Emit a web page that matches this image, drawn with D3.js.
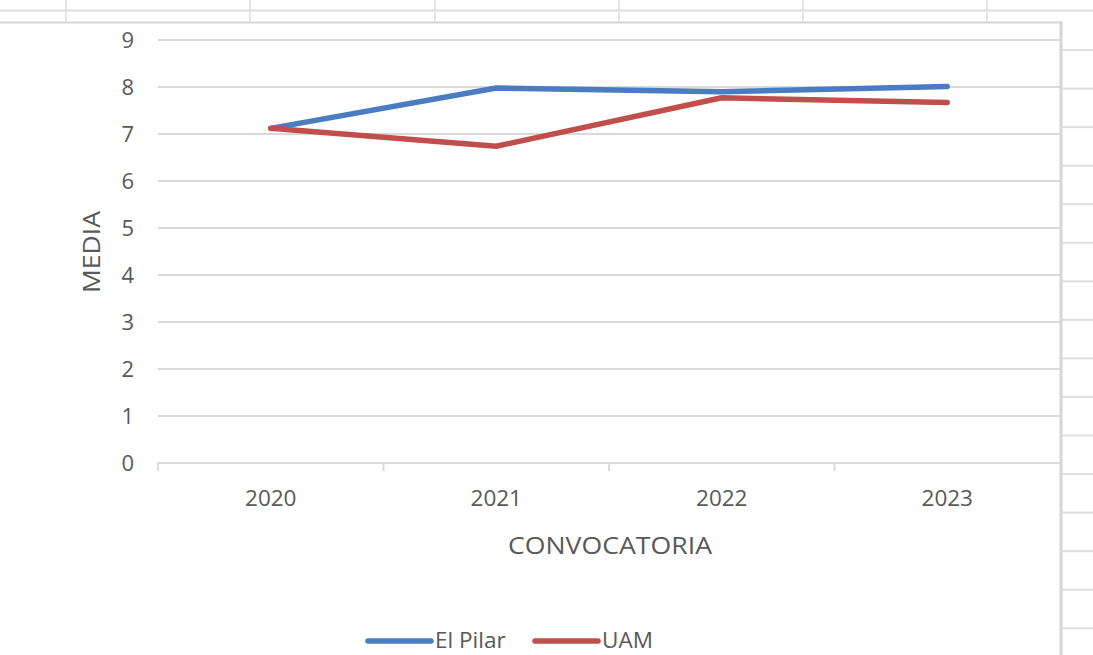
<!DOCTYPE html>
<html>
<head>
<meta charset="utf-8">
<script src="https://cdn.jsdelivr.net/npm/d3@7/dist/d3.min.js"></script>
<style>
  html, body { margin: 0; padding: 0; background: #fff; }
  svg { display: block; font-family: "Open Sans", "Noto Sans", sans-serif; }
</style>
</head>
<body>
<svg id="chart" width="1093" height="655"></svg>
<script>
const categories = ["2020", "2021", "2022", "2023"];
const elPilar = [7.12, 7.98, 7.9, 8.01];
const uam = [7.12, 6.74, 7.77, 7.67];
const yTicks = [0, 1, 2, 3, 4, 5, 6, 7, 8, 9];
const seriesNames = ["El Pilar", "UAM"];
const seriesColors = ["#4a7cc1", "#c14e4b"];

const svg = d3.select("#chart");
const W = 1093, H = 655;

// spreadsheet backdrop (cropped Excel screenshot)
const sheet = svg.append("g").attr("stroke", "#dedede");
sheet.append("line").attr("x1", 0).attr("x2", W).attr("y1", 10.5).attr("y2", 10.5).attr("stroke-width", 2);
[66, 250, 435, 619, 803, 987].forEach(x => {
  sheet.append("line").attr("x1", x).attr("x2", x).attr("y1", 0).attr("y2", 23).attr("stroke-width", 1.5);
});
d3.range(16).forEach(i => {
  const y = 50 + i * 38.55;
  sheet.append("line").attr("x1", 1061).attr("x2", W).attr("y1", y).attr("y2", y).attr("stroke-width", 2);
});
// chart frame
svg.append("line").attr("x1", 0).attr("x2", 1062).attr("y1", 22.5).attr("y2", 22.5)
  .attr("stroke", "#d6d6d6").attr("stroke-width", 2);
svg.append("line").attr("x1", 1061).attr("x2", 1061).attr("y1", 21.5).attr("y2", H)
  .attr("stroke", "#d6d6d6").attr("stroke-width", 3);

const plot = { left: 158, right: 1060, top: 40, bottom: 463 };
const x = d3.scaleBand().domain(categories).range([plot.left, plot.right]);
const y = d3.scaleLinear().domain([0, 9]).range([plot.bottom, plot.top]);

// gridlines
svg.append("g")
  .selectAll("line").data(yTicks.filter(d => d > 0)).join("line")
  .attr("x1", plot.left).attr("x2", plot.right)
  .attr("y1", d => y(d)).attr("y2", d => y(d))
  .attr("stroke", "#d9d9d9").attr("stroke-width", 2);

// y axis labels
const yAxis = svg.append("g").attr("transform", `translate(${plot.left},0)`)
  .call(d3.axisLeft(y).tickValues(yTicks).tickSize(0).tickPadding(24).tickFormat(d3.format("d")));
yAxis.select(".domain").remove();
yAxis.selectAll("text").attr("fill", "#595959").style("font-size", "22px")
  .style("font-family", '"Open Sans", sans-serif');

// x axis
const xAxis = svg.append("g").attr("transform", `translate(0,${plot.bottom})`)
  .call(d3.axisBottom(x).tickSize(0).tickPadding(27));
xAxis.select(".domain").attr("stroke", "#d9d9d9").attr("stroke-width", 2)
  .attr("d", `M${plot.left},0H${plot.right}`);
xAxis.selectAll("text").attr("fill", "#595959").style("font-size", "22.5px")
  .style("font-family", '"Open Sans", sans-serif');
// category boundary ticks
svg.append("g").selectAll("line").data(categories).join("line")
  .attr("x1", d => x(d)).attr("x2", d => x(d))
  .attr("y1", plot.bottom).attr("y2", plot.bottom + 8)
  .attr("stroke", "#d9d9d9").attr("stroke-width", 2);

// axis titles
svg.append("text").attr("x", 610).attr("y", 554).attr("text-anchor", "middle")
  .attr("fill", "#595959").style("font-size", "24px")
  .attr("textLength", 204).attr("lengthAdjust", "spacingAndGlyphs").text("CONVOCATORIA");
svg.append("text").attr("transform", "translate(100,252) rotate(-90)").attr("text-anchor", "middle")
  .attr("fill", "#595959").style("font-size", "24px")
  .attr("textLength", 82).attr("lengthAdjust", "spacingAndGlyphs").text("MEDIA");

// lines
const line = d3.line().x((d, i) => x(categories[i]) + x.bandwidth() / 2).y(d => y(d));
[elPilar, uam].forEach((s, k) => {
  svg.append("path").datum(s).attr("d", line).attr("fill", "none")
    .attr("stroke", seriesColors[k]).attr("stroke-width", 5.5)
    .attr("stroke-linecap", "round").attr("stroke-linejoin", "round");
});

// legend
const legend = svg.append("g");
const legendItems = [{ x: 368, name: seriesNames[0], c: seriesColors[0] }, { x: 535, name: seriesNames[1], c: seriesColors[1] }];
legendItems.forEach(it => {
  legend.append("line").attr("x1", it.x).attr("x2", it.x + 63).attr("y1", 641).attr("y2", 641)
    .attr("stroke", it.c).attr("stroke-width", 5.5).attr("stroke-linecap", "round");
  legend.append("text").attr("x", it.x + 67).attr("y", 648).attr("fill", "#595959")
    .style("font-size", "22.5px").text(it.name);
});
</script>
</body>
</html>
